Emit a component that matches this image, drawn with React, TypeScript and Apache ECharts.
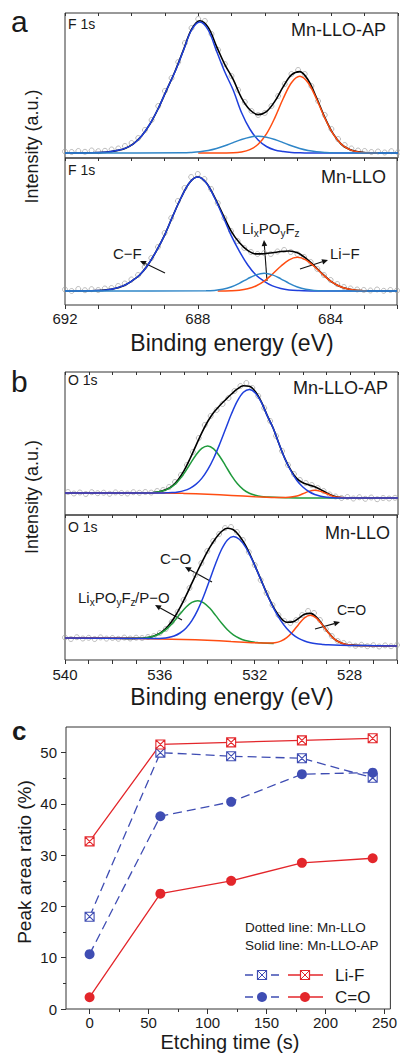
import React, { useEffect, useRef } from 'react';
import * as echarts from 'echarts';

type P = [number, number];

// ---------- Panel a (F 1s), binding energy (eV) vs intensity (a.u.) ----------
// Mn-LLO-AP
const A1_POINTS: P[] = [[692.0,6.5],[691.8,6],[691.6,7],[691.4,6.2],[691.2,7.5],[691.0,6.8],[690.8,7.2],[690.6,8.5],[690.4,9.5],[690.2,12],[690.0,15],[689.8,20],[689.6,28],[689.4,38],[689.2,52],[689.0,67],[688.8,80],[688.6,96],[688.4,115],[688.2,130],[688.0,139],[687.8,137],[687.6,124],[687.4,108],[687.2,94],[687.0,82],[686.8,68],[686.6,56],[686.4,47],[686.2,43],[686.0,45],[685.8,52],[685.6,62],[685.4,74],[685.2,84],[685.0,88],[684.8,84],[684.6,72],[684.4,57],[684.2,43],[684.0,29],[683.8,19],[683.6,13],[683.4,9.5],[683.2,7.5],[683.0,7],[682.8,6],[682.6,6.5],[682.4,5.5],[682.2,6.8],[682.0,5.8]];
const A1_ENVELOPE: P[] = [[692,5],[691.2,5.2],[690.95,5.4],[690.7,6],[690.45,7.4],[690.2,9.6],[689.95,14.2],[689.7,22],[689.45,33.8],[689.2,49.5],[688.95,67.9],[688.7,86.2],[688.45,107.4],[688.2,128.7],[687.95,137.3],[687.7,130.6],[687.45,111.7],[687.2,93.4],[686.95,78.6],[686.7,60.1],[686.45,48.2],[686.2,43.4],[685.95,46.4],[685.7,56.6],[685.45,71.1],[685.2,83.1],[684.95,86.4],[684.7,78],[684.45,60.5],[684.2,40.7],[683.95,24.3],[683.7,13.7],[683.45,8.4],[683.2,6.1],[682.95,5.3],[682,5]];
const A1_CF: P[] = [[692,5],[691.2,5.2],[690.95,5.4],[690.7,6],[690.45,7.4],[690.2,9.6],[689.95,14],[689.7,22],[689.45,34],[689.2,49.5],[688.95,68],[688.7,86],[688.45,107],[688.2,128],[687.95,136],[687.7,128],[687.45,107],[687.2,86],[686.95,68],[686.7,45.5],[686.45,29],[686.2,18],[685.95,11.5],[685.7,8],[685.45,6.5],[685.2,5.6],[684.95,5.2],[684.7,5],[682,5]];
const A1_LIPOF: P[] = [[692,5],[688.45,5.2],[688.2,5.6],[687.95,6.3],[687.7,7.5],[687.45,9.5],[687.2,12.2],[686.95,15.4],[686.7,18.5],[686.45,20.8],[686.2,21.7],[685.95,20.8],[685.7,18.5],[685.45,15.4],[685.2,12.2],[684.95,9.5],[684.7,7.5],[684.45,6.3],[684.2,5.6],[683.95,5.2],[682,5]];
const A1_LIF: P[] = [[688,5],[686.95,5.3],[686.7,6.1],[686.45,8.4],[686.2,13.7],[685.95,24.1],[685.7,40.1],[685.45,59.2],[685.2,75.3],[684.95,81.7],[684.7,75.3],[684.45,59.2],[684.2,40.1],[683.95,24.1],[683.7,13.7],[683.45,8.4],[683.2,6.1],[682.95,5.3],[682.6,5]];

// Mn-LLO
const A2_POINTS: P[] = [[692.0,15.5],[691.8,14],[691.6,16],[691.4,14.8],[691.2,15.8],[691.0,15],[690.8,16.5],[690.6,17],[690.4,19],[690.2,21.5],[690.0,25.5],[689.8,30],[689.6,38],[689.4,47],[689.2,58],[689.0,72],[688.8,87],[688.6,104],[688.4,117],[688.2,128],[688.0,131],[687.8,126],[687.6,116],[687.4,102],[687.2,87],[687.0,74],[686.8,64],[686.6,57],[686.4,53],[686.2,51],[686.0,52],[685.8,51],[685.6,53.5],[685.4,55],[685.2,53],[685.0,51],[684.8,48],[684.6,43],[684.4,36],[684.2,30],[684.0,25],[683.8,21],[683.6,18],[683.4,16.5],[683.2,15.5],[683.0,15],[682.8,14.5],[682.6,15.5],[682.4,14.2],[682.2,15],[682.0,14.5]];
const A2_ENVELOPE: P[] = [[692,14],[691,14.5],[690.75,15.1],[690.5,16.5],[690.25,19.1],[690,23.7],[689.75,30],[689.5,40.2],[689.25,53.9],[689,69.9],[688.75,89.2],[688.5,107.5],[688.25,122.3],[688,128],[687.75,122.5],[687.5,108.1],[687.25,90.9],[687,74.2],[686.75,62.4],[686.5,54.6],[686.25,51.1],[686,51.3],[685.75,52.2],[685.5,53.5],[685.25,54],[685,52.2],[684.75,46.9],[684.5,39.4],[684.25,31.2],[684,23.9],[683.75,19],[683.5,16.2],[683.25,14.8],[683,14.3],[682,14]];
const A2_CF: P[] = [[692,14],[691,14.5],[690.75,15.1],[690.5,16.5],[690.25,19.1],[690,23.7],[689.75,30],[689.5,40.2],[689.25,53.9],[689,69.9],[688.75,89.2],[688.5,107.5],[688.25,122.3],[688,128],[687.75,122.3],[687.5,107.5],[687.25,89.2],[687,69.9],[686.75,53.9],[686.5,40.2],[686.25,30],[686,23.7],[685.75,19.1],[685.5,16.5],[685.25,15.1],[685,14.5],[684.5,14],[682,14]];
const A2_LIPOF: P[] = [[692,14],[687.75,14.2],[687.5,14.6],[687.25,15.7],[687,18],[686.75,21.7],[686.5,26.2],[686.25,30.1],[686,31.7],[685.75,30.1],[685.5,26.2],[685.25,21.7],[685,18],[684.75,15.7],[684.5,14.6],[684.25,14.2],[682,14]];
const A2_LIF: P[] = [[687.4,14],[687,14.3],[686.75,14.8],[686.5,16.2],[686.25,19],[686,23.9],[685.75,31],[685.5,38.8],[685.25,45.2],[685,47.7],[684.75,45.2],[684.5,38.8],[684.25,31],[684,23.9],[683.75,19],[683.5,16.2],[683.25,14.8],[683,14.3],[682.9,14]];

// ---------- Panel b (O 1s) ----------
// Mn-LLO-AP
const B1_POINTS: P[] = [[539.875,23],[539.625,21.5],[539.375,22.5],[539.125,21],[538.875,22.8],[538.625,21.8],[538.375,22.3],[538.125,21.2],[537.875,22.6],[537.625,22],[537.375,21.5],[537.125,22.8],[536.875,22.2],[536.625,23],[536.375,22.4],[536.125,24],[535.875,25],[535.625,28],[535.375,33],[535.125,40],[534.875,50],[534.625,63],[534.375,77],[534.125,90],[533.875,99],[533.625,105],[533.375,111],[533.125,117],[532.875,124],[532.625,129],[532.375,132],[532.125,127],[531.875,119],[531.625,107],[531.375,94],[531.125,79],[530.875,64],[530.625,50],[530.375,41],[530.125,35],[529.875,32],[529.625,30],[529.375,27],[529.125,24],[528.875,20.5],[528.625,18.5],[528.375,17],[528.125,18],[527.875,16.5],[527.625,17.8],[527.375,16.2],[527.125,17.5],[526.875,15.8],[526.625,17],[526.375,16.5],[526.125,17.2]];
const B1_ENVELOPE: P[] = [[540,22],[537,22],[536.5,22.2],[536.25,22.5],[536,23.4],[535.75,25.4],[535.5,28.9],[535.25,35.1],[535,44.2],[534.75,56],[534.5,69.2],[534.25,82.2],[534,93.5],[533.75,102.4],[533.5,109.3],[533.25,115.3],[533,121],[532.75,126.1],[532.5,129.2],[532.25,128.8],[532,123.5],[531.75,113.4],[531.5,99.6],[531.25,87],[531,71],[530.75,56.2],[530.5,44.7],[530.25,36.4],[530,32.2],[529.75,30.1],[529.5,28.2],[529.25,25.4],[529,22],[528.75,19.2],[528.5,17.7],[528.25,17.2],[526,17]];
const B1_CO: P[] = [[540,22],[536,22],[535.75,22.2],[535.5,22.4],[535.25,23.1],[535,24.4],[534.75,26.7],[534.5,30.6],[534.25,36.6],[534,45.3],[533.75,56.8],[533.5,70.7],[533.25,86],[533,101.2],[532.75,114.1],[532.5,122.7],[532.25,125.6],[532,122.1],[531.75,112.9],[531.5,99.4],[531.25,87],[531,71],[530.75,56],[530.5,44],[530.25,34.5],[530,28],[529.75,23.5],[529.5,20.5],[529.25,18.8],[529,17.8],[528.75,17.3],[528.5,17],[526,17]];
const B1_LIPOF_PO: P[] = [[537,22],[536.5,22.2],[536.25,22.5],[536,23.4],[535.75,25.1],[535.5,28.3],[535.25,33.7],[535,41.4],[534.75,50.7],[534.5,59.8],[534.25,66.6],[534,69],[533.75,66.1],[533.5,58.8],[533.25,49.2],[533,39.4],[532.75,31.2],[532.5,25.4],[532.25,21.8],[532,19.7],[531.75,18.5],[531.5,18],[531,17.4],[530,17],[526,17]];
const B1_CEQO: P[] = [[540,22],[536,22],[535,21.6],[534,20.8],[533,19.6],[532,18.3],[531,17.4],[530.75,17.5],[530.5,17.9],[530.25,19],[530,21.2],[529.75,23.6],[529.5,24.7],[529.25,23.6],[529,21.2],[528.75,18.9],[528.5,17.7],[528.25,17.2],[528,17],[526,17]];

// Mn-LLO
const B2_POINTS: P[] = [[540,22.5],[539.75,21],[539.5,22.8],[539.25,21.5],[539,22.2],[538.75,21],[538.5,22.6],[538.25,21.4],[538,22],[537.75,21.2],[537.5,22.4],[537.25,21.5],[537,22.3],[536.75,22],[536.5,23],[536.25,24],[536,27],[535.75,31],[535.5,38],[535.25,48],[535,60],[534.75,72],[534.5,85],[534.25,97],[534,109],[533.75,119],[533.5,126],[533.25,132],[533,133],[532.75,128],[532.5,120],[532.25,108],[532,95],[531.75,80],[531.5,67],[531.25,55],[531,45],[530.75,39],[530.5,37],[530.25,40],[530,45],[529.75,49],[529.5,47],[529.25,40],[529,31],[528.75,24],[528.5,19],[528.25,17],[528,15.5],[527.75,14.2],[527.5,15.2],[527.25,13.8],[527,14.8],[526.75,13.5],[526.5,14.6],[526.25,13.8],[526,15]];
const B2_ENVELOPE: P[] = [[540,22],[537.15,21.6],[536.9,21.75],[536.65,22.05],[536.4,22.9],[536.15,25],[535.9,28.45],[535.65,34],[535.4,42],[535.15,52.3],[534.9,64.1],[534.65,76.8],[534.4,89.5],[534.15,101.4],[533.9,112.3],[533.65,121.5],[533.4,128.5],[533.15,131.7],[532.9,130.2],[532.65,124.3],[532.4,115.1],[532.15,103],[531.9,89.4],[531.65,75.4],[531.4,61.8],[531.15,50.3],[530.9,42],[530.65,37.7],[530.4,38.1],[530.15,41.6],[529.9,45.65],[529.65,46.6],[529.4,42.9],[529.15,35.6],[528.9,27.55],[528.65,21.15],[528.4,17.45],[528.15,15.55],[527.9,14.85],[527.65,14.45],[526,14]];
const B2_CO: P[] = [[540,22],[537,21.5],[536.15,21.4],[535.9,21.65],[535.65,22.4],[535.4,24],[535.15,27],[534.9,31.8],[534.65,39.4],[534.4,50.2],[534.15,64],[533.9,80],[533.65,96.2],[533.4,110.5],[533.15,120.1],[532.9,123.4],[532.65,120.7],[532.4,113.4],[532.15,102.3],[531.9,89.1],[531.65,75.2],[531.4,61.5],[531.15,49.4],[530.9,39.3],[530.65,31.4],[530.4,25.7],[530.15,21.6],[529.9,18.95],[529.65,17.2],[529.4,16.2],[529.15,15.6],[528.9,15.15],[528.4,14.75],[527.4,14.4],[526,14]];
const B2_LIPOF_PO: P[] = [[537.5,21.6],[537.15,21.6],[536.9,21.75],[536.65,22.05],[536.4,22.9],[536.15,24.7],[535.9,27.75],[535.65,32.4],[535.4,38.7],[535.15,45.9],[534.9,52.7],[534.65,57.6],[534.4,59.3],[534.15,57.2],[533.9,51.9],[533.65,44.6],[533.4,37],[533.15,30.3],[532.9,25.2],[532.65,21.7],[532.4,19.5],[532.15,18.25],[531.9,17.5],[531.65,17.1],[531.2,16.4]];
const B2_CEQO: P[] = [[540,22],[537,21.5],[535,20.5],[534,19.7],[533,18.5],[532,17.3],[531.4,17],[531.15,17.3],[530.9,18.9],[530.65,22.3],[530.4,28.2],[530.15,35.6],[529.9,42.15],[529.65,44.7],[529.4,41.9],[529.15,35.1],[528.9,27.35],[528.65,21.15],[528.4,17.45],[528.15,15.55],[527.9,14.85],[527.5,14.4],[526,14]];

// ---------- Panel c ----------
const ETCH_TIME = [0, 60, 120, 180, 240];
const LIF_MNLLO = [18.0, 50.0, 49.3, 48.9, 45.1];
const CO_MNLLO = [10.7, 37.6, 40.4, 45.8, 46.1];
const LIF_AP = [32.7, 51.6, 52.0, 52.4, 52.8];
const CO_AP = [2.3, 22.5, 25.0, 28.5, 29.4];
const C_X_TICKS = [0, 50, 100, 150, 200, 250];
const C_X_MINOR = [25, 75, 125, 175, 225];
const C_Y_TICKS = [0, 10, 20, 30, 40, 50];
const C_Y_MINOR = [5, 15, 25, 35, 45];

const FONT = '"Liberation Sans", Arial, Helvetica, sans-serif';
const TXT = '#1a1a1a';
const C_BLUE = '#1f3fdc';
const C_LBLUE = '#2f86c8';
const C_ORANGE = '#ff4d12';
const C_GREEN = '#1f9a3c';
const RED = '#e3262b';
const DBLUE = '#3f4db3';
const XSQ = 'path://M0,0L10,0L10,10L0,10Z M0,0L10,10 M10,0L0,10';

function spectrum(xi: number, yi: number, pts: P[], env: P[], comps: { data: P[]; color: string }[]) {
  const base = { xAxisIndex: xi, yAxisIndex: yi, silent: true };
  return [
    { ...base, type: 'scatter', data: pts, symbol: 'circle', symbolSize: 5,
      itemStyle: { color: 'rgba(255,255,255,0)', borderColor: '#a2a2a2', borderWidth: 0.9 } },
    { ...base, type: 'line', data: env, symbol: 'none', smooth: 0.35,
      lineStyle: { color: '#000', width: 1.6 } },
    ...comps.map((c) => ({ ...base, type: 'line', data: c.data, symbol: 'none', smooth: 0.35,
      lineStyle: { color: c.color, width: 1.5 } })),
  ];
}

const NOLINE = { show: false, onZero: false };

function topAxis(gi: number, min: number, max: number) {
  return { gridIndex: gi, type: 'value', min, max, inverse: true, interval: 1, position: 'top',
    axisLine: NOLINE, axisTick: { show: true, inside: true, length: 3, lineStyle: { color: '#333' } },
    axisLabel: { show: false }, splitLine: { show: false } };
}
function bottomAxis(gi: number, min: number, max: number, margin: number) {
  return { gridIndex: gi, type: 'value', min, max, inverse: true, interval: 1, position: 'bottom',
    axisLine: NOLINE, axisTick: { show: true, length: 4, lineStyle: { color: '#333' } },
    axisLabel: { show: true, fontSize: 15, color: TXT, fontFamily: FONT, margin,
      formatter: (v: number) => (Math.round(v) % 4 === 0 ? String(Math.round(v)) : '') },
    splitLine: { show: false } };
}

function text(x: number, y: number, s: string, size: number, o: any = {}) {
  return { type: 'text', x, y, rotation: o.rot || 0, silent: true,
    style: { text: s, fontSize: size, fontFamily: FONT, fontWeight: o.bold ? 'bold' : 'normal', fill: TXT,
      align: o.align || 'left', textAlign: o.align || 'left', verticalAlign: 'middle', textVerticalAlign: 'middle' } };
}

function arrow(tx: number, ty: number, hx: number, hy: number) {
  const dx = hx - tx, dy = hy - ty;
  const L = Math.sqrt(dx * dx + dy * dy);
  const ux = dx / L, uy = dy / L, nx = -uy, ny = ux;
  const bx = hx - 6 * ux, by = hy - 6 * uy;
  return [
    { type: 'line', silent: true, shape: { x1: tx, y1: ty, x2: bx, y2: by }, style: { stroke: '#111', lineWidth: 1.1 } },
    { type: 'polygon', silent: true, shape: { points: [[hx, hy], [bx + 2.8 * nx, by + 2.8 * ny], [bx - 2.8 * nx, by - 2.8 * ny]] },
      style: { fill: '#111' } },
  ];
}

// formula label with subscripts: parts [text, isSub, advance]
function formula(x: number, y: number, parts: [string, boolean, number][], size: number) {
  const out: any[] = [];
  let cx = x;
  parts.forEach(([s, sub, w]) => {
    out.push(text(cx, sub ? y + 5 : y, s, sub ? size - 5 : size));
    cx += w;
  });
  return out;
}

function xsqGraphic(cx: number, cy: number, color: string) {
  const h = 4.5;
  return [
    { type: 'rect', silent: true, shape: { x: cx - h, y: cy - h, width: 2 * h, height: 2 * h }, style: { fill: '#fff', stroke: color, lineWidth: 1.2 } },
    { type: 'line', silent: true, shape: { x1: cx - h, y1: cy - h, x2: cx + h, y2: cy + h }, style: { stroke: color, lineWidth: 1 } },
    { type: 'line', silent: true, shape: { x1: cx + h, y1: cy - h, x2: cx - h, y2: cy + h }, style: { stroke: color, lineWidth: 1 } },
  ];
}

function buildOption() {
  const grids = [
    { left: 65, top: 13, width: 333, height: 145 },
    { left: 65, top: 158, width: 333, height: 147 },
    { left: 65, top: 372, width: 333, height: 143 },
    { left: 65, top: 515, width: 333, height: 145 },
    { left: 66, top: 727, width: 328, height: 282 },
  ].map((g) => ({ ...g, show: true, borderColor: '#333', borderWidth: 1, backgroundColor: 'transparent' }));

  const xAxis: any[] = [
    topAxis(0, 682, 692),                 // 0
    bottomAxis(1, 682, 692, 6),           // 1
    topAxis(1, 682, 692),                 // 2
    topAxis(2, 526, 540),                 // 3
    bottomAxis(3, 526, 540, 7),           // 4
    topAxis(3, 526, 540),                 // 5
    { gridIndex: 4, type: 'value', min: -20, max: 255, position: 'bottom',
      axisLine: NOLINE, axisTick: { show: true, length: 5, customValues: C_X_TICKS, lineStyle: { color: '#333' } },
      axisLabel: { show: true, customValues: C_X_TICKS, fontSize: 15, color: TXT, fontFamily: FONT, margin: 6 },
      splitLine: { show: false } },     // 6
    { gridIndex: 4, type: 'value', min: -20, max: 255, position: 'bottom',
      axisLine: NOLINE, axisTick: { show: true, length: 3, customValues: C_X_MINOR, lineStyle: { color: '#333' } },
      axisLabel: { show: false }, splitLine: { show: false } }, // 7
  ];
  const yAxis: any[] = [
    { gridIndex: 0, type: 'value', min: 0, max: 145, show: false },
    { gridIndex: 1, type: 'value', min: 0, max: 147, show: false },
    { gridIndex: 2, type: 'value', min: 0, max: 143, show: false },
    { gridIndex: 3, type: 'value', min: 0, max: 145, show: false },
    { gridIndex: 4, type: 'value', min: 0, max: 55, position: 'left',
      axisLine: NOLINE, axisTick: { show: true, length: 5, customValues: C_Y_TICKS, lineStyle: { color: '#333' } },
      axisLabel: { show: true, customValues: C_Y_TICKS, fontSize: 15, color: TXT, fontFamily: FONT, margin: 9 },
      splitLine: { show: false } },
    { gridIndex: 4, type: 'value', min: 0, max: 55, position: 'left', offset: 0,
      axisLine: NOLINE, axisTick: { show: true, length: 3, customValues: C_Y_MINOR, lineStyle: { color: '#333' } },
      axisLabel: { show: false }, splitLine: { show: false } },
  ];

  const cData = (v: number[]) => ETCH_TIME.map((t, i) => [t, v[i]]);
  const cBase = { type: 'line', xAxisIndex: 6, yAxisIndex: 4, silent: true };
  const series: any[] = [
    ...spectrum(0, 0, A1_POINTS, A1_ENVELOPE, [{ data: A1_CF, color: C_BLUE }, { data: A1_LIF, color: C_ORANGE }, { data: A1_LIPOF, color: C_LBLUE }]),
    ...spectrum(1, 1, A2_POINTS, A2_ENVELOPE, [{ data: A2_CF, color: C_BLUE }, { data: A2_LIF, color: C_ORANGE }, { data: A2_LIPOF, color: C_LBLUE }]),
    ...spectrum(3, 2, B1_POINTS, B1_ENVELOPE, [{ data: B1_LIPOF_PO, color: C_GREEN }, { data: B1_CEQO, color: C_ORANGE }, { data: B1_CO, color: C_BLUE }]),
    ...spectrum(4, 3, B2_POINTS, B2_ENVELOPE, [{ data: B2_LIPOF_PO, color: C_GREEN }, { data: B2_CEQO, color: C_ORANGE }, { data: B2_CO, color: C_BLUE }]),
    { ...cBase, data: cData(LIF_MNLLO), symbol: XSQ, symbolSize: 9, lineStyle: { color: DBLUE, width: 1.3, type: [9, 5] },
      itemStyle: { color: '#fff', borderColor: DBLUE, borderWidth: 1.1 } },
    { ...cBase, data: cData(CO_MNLLO), symbol: 'circle', symbolSize: 10, lineStyle: { color: DBLUE, width: 1.3, type: [9, 5] },
      itemStyle: { color: DBLUE } },
    { ...cBase, data: cData(LIF_AP), symbol: XSQ, symbolSize: 9, lineStyle: { color: RED, width: 1.3 },
      itemStyle: { color: '#fff', borderColor: RED, borderWidth: 1.1 } },
    { ...cBase, data: cData(CO_AP), symbol: 'circle', symbolSize: 10, lineStyle: { color: RED, width: 1.3 },
      itemStyle: { color: RED } },
  ];

  const graphic: any[] = [
    text(11, 21.5, 'a', 30),
    text(11, 381.5, 'b', 30),
    text(12, 731, 'c', 26, { bold: true }),
    text(32, 146.5, 'Intensity (a.u.)', 18, { align: 'center', rot: Math.PI / 2 }),
    text(32, 497, 'Intensity (a.u.)', 18, { align: 'center', rot: Math.PI / 2 }),
    text(24, 862, 'Peak area ratio (%)', 19, { align: 'center', rot: Math.PI / 2 }),
    text(232, 343, 'Binding energy (eV)', 23, { align: 'center' }),
    text(232, 697, 'Binding energy (eV)', 23, { align: 'center' }),
    text(230, 1042, 'Etching time (s)', 20, { align: 'center' }),
    text(68, 24, 'F 1s', 14),
    text(68, 170, 'F 1s', 14),
    text(68, 380, 'O 1s', 14),
    text(68, 527, 'O 1s', 14),
    text(386, 30, 'Mn-LLO-AP', 18, { align: 'right' }),
    text(386, 177, 'Mn-LLO', 18, { align: 'right' }),
    text(388, 388, 'Mn-LLO-AP', 18, { align: 'right' }),
    text(390, 533, 'Mn-LLO', 18, { align: 'right' }),
    // panel a annotations
    text(113, 253, 'C\u2212F', 15),
    ...arrow(165, 273, 140, 261),
    ...formula(242, 228, [['Li', false, 11.7], ['x', true, 5], ['PO', false, 21.7], ['y', true, 5], ['F', false, 9.2], ['z', true, 5]], 15),
    ...arrow(267, 281, 264, 240),
    text(330, 253, 'Li\u2212F', 15),
    ...arrow(300, 269, 328, 260),
    // panel b annotations
    text(160, 558, 'C\u2212O', 15),
    ...arrow(212, 582, 185, 567),
    ...formula(78, 597, [['Li', false, 11.7], ['x', true, 5], ['PO', false, 21.7], ['y', true, 5], ['F', false, 9.2], ['z', true, 4.5], ['/P\u2212O', false, 35]], 15),
    ...arrow(182, 620, 155, 605),
    text(337, 610, 'C=O', 14),
    ...arrow(315, 629, 340, 622),
    // panel c legend
    text(245, 927, 'Dotted line: Mn-LLO', 13.5),
    text(245, 945, 'Solid line: Mn-LLO-AP', 13.5),
    { type: 'line', silent: true, shape: { x1: 245, y1: 975, x2: 280, y2: 975 }, style: { stroke: DBLUE, lineWidth: 1.3, lineDash: [8, 5] } },
    ...xsqGraphic(262, 975, DBLUE),
    { type: 'line', silent: true, shape: { x1: 288, y1: 975, x2: 323, y2: 975 }, style: { stroke: RED, lineWidth: 1.3 } },
    ...xsqGraphic(305, 975, RED),
    text(335, 975, 'Li-F', 17),
    { type: 'line', silent: true, shape: { x1: 245, y1: 997, x2: 280, y2: 997 }, style: { stroke: DBLUE, lineWidth: 1.3, lineDash: [8, 5] } },
    { type: 'circle', silent: true, shape: { cx: 262, cy: 997, r: 5 }, style: { fill: DBLUE } },
    { type: 'line', silent: true, shape: { x1: 288, y1: 997, x2: 323, y2: 997 }, style: { stroke: RED, lineWidth: 1.3 } },
    { type: 'circle', silent: true, shape: { cx: 305, cy: 997, r: 5 }, style: { fill: RED } },
    text(335, 997, 'C=O', 17),
  ];

  return {
    animation: false,
    backgroundColor: '#fff',
    textStyle: { fontFamily: FONT },
    grid: grids,
    xAxis,
    yAxis,
    series,
    graphic,
  };
}

export default function App() {
  const ref = useRef<HTMLDivElement>(null);
  useEffect(() => {
    const chart = echarts.init(ref.current!, null, { renderer: 'svg' });
    chart.setOption(buildOption() as any);
    return () => chart.dispose();
  }, []);
  return (
    <div ref={ref} style={{ position: 'absolute', left: 0, top: 0, width: 400, height: 1054, background: '#fff' }} />
  );
}
